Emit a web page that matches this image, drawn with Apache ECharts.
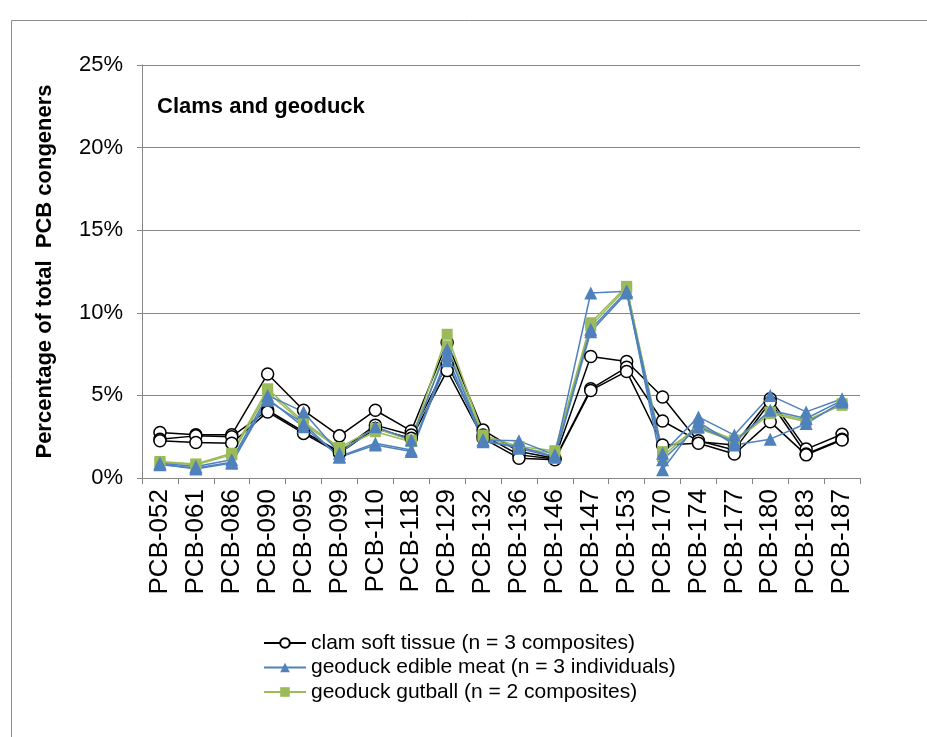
<!DOCTYPE html>
<html>
<head>
<meta charset="utf-8">
<script src="https://cdn.jsdelivr.net/npm/echarts@6/dist/echarts.min.js"></script>
<style>
  html, body { margin: 0; padding: 0; background: #fff; }
  #chart { width: 927px; height: 737px; }
</style>
</head>
<body>
<div id="chart"></div>
<script>
// PCB congeners on the category axis
const congeners = ['PCB-052','PCB-061','PCB-086','PCB-090','PCB-095','PCB-099','PCB-110','PCB-118','PCB-129','PCB-132',
                   'PCB-136','PCB-146','PCB-147','PCB-153','PCB-170','PCB-174','PCB-177','PCB-180','PCB-183','PCB-187'];

// Percent of total PCB congeners, one array per sample
const clam1 = [2.75, 2.62, 2.62, 6.30, 4.10, 2.55, 4.10, 2.85, 8.20, 2.90, 1.60, 1.20, 7.35, 7.05, 4.90, 2.20, 2.00, 4.80, 1.75, 2.65];
const clam2 = [2.35, 2.55, 2.50, 4.10, 2.80, 1.60, 3.20, 2.60, 6.90, 2.60, 1.40, 1.15, 5.40, 6.70, 3.45, 2.25, 1.70, 4.60, 1.45, 2.35];
const clam3 = [2.25, 2.15, 2.10, 4.00, 2.70, 1.50, 3.00, 2.40, 6.50, 2.40, 1.20, 1.10, 5.30, 6.45, 2.00, 2.10, 1.45, 3.40, 1.40, 2.30];

const meat1 = [0.90, 0.70, 1.10, 5.00, 4.00, 1.50, 3.10, 2.30, 7.80, 2.30, 2.25, 1.40, 11.20, 11.30, 1.50, 3.70, 2.60, 5.00, 4.00, 4.80];
const meat2 = [0.80, 0.60, 0.95, 4.80, 3.10, 1.30, 2.10, 1.70, 7.40, 2.20, 1.90, 1.30, 9.00, 11.30, 0.50, 3.40, 2.00, 2.35, 3.30, 4.60];
const meat3 = [0.85, 0.55, 0.90, 4.70, 3.30, 1.25, 2.00, 1.60, 7.10, 2.30, 1.80, 1.25, 8.85, 11.20, 1.10, 3.10, 2.20, 4.10, 3.60, 4.70];

const gut1 = [1.00, 0.85, 1.50, 5.40, 3.40, 1.85, 3.00, 2.30, 8.70, 2.60, 1.90, 1.65, 9.40, 11.60, 1.30, 3.20, 2.30, 4.00, 3.50, 4.40];
const gut2 = [0.95, 0.80, 1.40, 5.20, 3.30, 1.75, 2.80, 2.20, 8.00, 2.50, 1.80, 1.50, 9.20, 11.50, 1.60, 3.00, 2.20, 3.90, 3.40, 4.50];

const yTicks = ['0%', '5%', '10%', '15%', '20%', '25%'];

const CLAM = 'clam soft tissue (n = 3 composites)';
const MEAT = 'geoduck edible meat (n = 3 individuals)';
const GUT  = 'geoduck gutball (n = 2 composites)';

const FONT = '"Liberation Sans", Arial, sans-serif';
const BLUE = '#4F81BD';
const GREEN = '#9BBB59';

function clamSeries(data) {
  return {
    name: CLAM, type: 'line', data: data,
    symbol: 'circle', symbolSize: 12,
    lineStyle: { color: '#000', width: 1.5 },
    itemStyle: { color: '#fff', borderColor: '#000', borderWidth: 1.5 },
    emphasis: { disabled: true }, animation: false
  };
}
function meatSeries(data) {
  return {
    name: MEAT, type: 'line', data: data,
    symbol: 'triangle', symbolSize: 13,
    lineStyle: { color: BLUE, width: 1.5 },
    itemStyle: { color: BLUE },
    emphasis: { disabled: true }, animation: false
  };
}
function gutSeries(data) {
  return {
    name: GUT, type: 'line', data: data,
    symbol: 'rect', symbolSize: 11,
    lineStyle: { color: GREEN, width: 1.5 },
    itemStyle: { color: GREEN },
    emphasis: { disabled: true }, animation: false
  };
}

const chart = echarts.init(document.getElementById('chart'), null, { renderer: 'canvas' });

chart.setOption({
  backgroundColor: '#fff',
  animation: false,
  textStyle: { fontFamily: FONT },
  graphic: [
    {
      type: 'rect', left: 9, top: 18, silent: true,
      shape: { width: 940, height: 740 },
      style: { fill: 'none', stroke: '#8c8c8c', lineWidth: 1 }
    },
    {
      type: 'text', left: 157, top: 96, silent: true,
      style: { text: 'Clams and geoduck', font: 'bold 22px ' + FONT, fill: '#000' }
    }
  ],
  grid: { left: 142, right: 67, top: 65, bottom: 259, containLabel: false },
  legend: {
    data: [CLAM, MEAT, GUT],
    orient: 'vertical',
    left: 263, top: 632, padding: 0,
    itemWidth: 42, itemHeight: 12, itemGap: 2.5,
    selectedMode: false,
    textStyle: { fontFamily: FONT, fontSize: 21, lineHeight: 22, color: '#000' }
  },
  xAxis: {
    type: 'category', data: congeners, boundaryGap: true,
    axisLine: { lineStyle: { color: '#868686', width: 1 } },
    axisTick: { show: true, alignWithLabel: false, length: 6, lineStyle: { color: '#868686' } },
    axisLabel: { rotate: 90, interval: 0, fontSize: 26, color: '#000', fontFamily: FONT, margin: 11 }
  },
  yAxis: {
    type: 'value', min: 0, max: 25, interval: 5,
    name: 'Percentage of total  PCB congeners',
    nameLocation: 'middle', nameGap: 86, nameRotate: 90,
    nameTextStyle: { fontFamily: FONT, fontSize: 22, fontWeight: 'bold', color: '#000' },
    axisLine: { show: true, lineStyle: { color: '#868686', width: 1 } },
    axisTick: { show: true, length: 5, lineStyle: { color: '#868686' } },
    splitLine: { lineStyle: { color: '#868686', width: 1 } },
    axisLabel: {
      fontSize: 22, color: '#000', fontFamily: FONT, margin: 19,
      formatter: function (v) { return yTicks[Math.round(v / 5)]; }
    }
  },
  series: [
    clamSeries(clam1), clamSeries(clam2), clamSeries(clam3),
    gutSeries(gut1), gutSeries(gut2),
    meatSeries(meat1), meatSeries(meat2), meatSeries(meat3)
  ]
});
</script>
</body>
</html>
